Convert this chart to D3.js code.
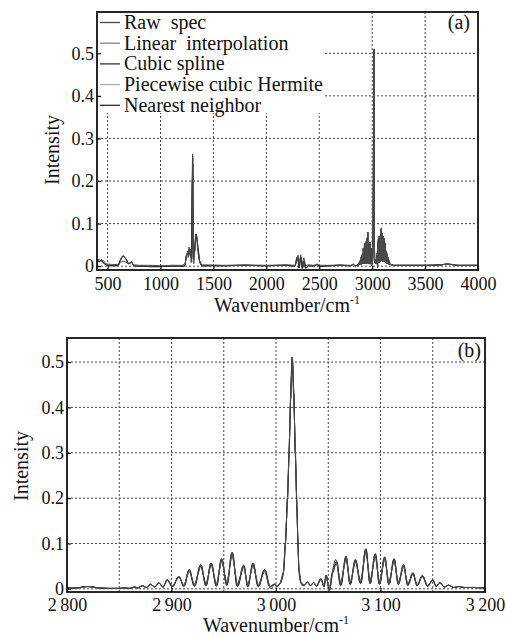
<!DOCTYPE html>
<html>
<head>
<meta charset="utf-8">
<script src="https://cdn.jsdelivr.net/npm/d3@7"></script>
<style>
body { margin: 0; background: #fff; }
svg text { font-family: "Liberation Serif", "Times New Roman", serif; fill: #111; }
</style>
</head>
<body>
<svg width="506" height="637"></svg>
<script>
// series
const seriesNames = ["Raw  spec", "Linear  interpolation", "Cubic spline", "Piecewise cubic Hermite", "Nearest neighbor"];
const seriesColors = ["#4a4a4a", "#858585", "#333333", "#ababab", "#2a2a2a"];

// spectrum below the zoomed window (cm-1, intensity)
const wnLow = [400, 420, 440, 460, 480, 500, 550, 600, 620, 645, 670, 700, 725, 750, 800, 900, 1000, 1100, 1200,
  1230, 1245, 1255, 1262, 1270, 1278, 1285, 1292, 1300, 1305, 1310, 1322, 1335, 1345, 1355, 1370, 1390, 1450,
  1600, 1800, 2000, 2200, 2270, 2290, 2300, 2310, 2325, 2340, 2355, 2370, 2400, 2450, 2480, 2500, 2600, 2700, 2790];
const rawLow = [0.012, 0.016, 0.010, 0.014, 0.006, 0.005, 0.004, 0.004, 0.008, 0.012, 0.010, 0.005, 0.008, 0.003, 0.002, 0.002, 0.001, 0.002, 0.002,
  0.004, 0.020, 0.035, 0.020, 0.045, 0.025, 0.040, 0.015, 0.020, 0.256, 0.010, 0.030, 0.070, 0.060, 0.030, 0.010, 0.003, 0.003,
  0.002, 0.003, 0.002, 0.003, 0.002, 0.012, 0.026, 0.005, 0.027, 0.006, 0.020, 0.002, 0.003, 0.002, 0.005, 0.002, 0.002, 0.003, 0.002];
const interpLow = [0.018, 0.010, 0.015, 0.008, 0.004, 0.002, 0.001, 0.002, 0.014, 0.024, 0.018, 0.006, 0.010, 0.001, 0.000, -0.001, -0.001, 0.000, 0.000,
  0.002, 0.025, 0.030, 0.028, 0.040, 0.030, 0.035, 0.020, 0.200, 0.240, 0.030, 0.035, 0.075, 0.065, 0.040, 0.012, 0.001, 0.001,
  0.001, 0.002, 0.001, 0.002, 0.000, 0.020, 0.015, -0.004, 0.020, -0.005, 0.012, -0.004, 0.001, 0.000, 0.004, 0.000, 0.001, 0.002, 0.001];

// zoomed window 2800-3200 cm-1
const wnFine = [2800, 2810, 2815, 2820, 2825, 2830, 2840, 2850, 2855, 2860, 2865, 2868, 2872, 2876, 2880, 2884, 2888, 2892,
  2896, 2901, 2907, 2912, 2917, 2922, 2928, 2933, 2938, 2943, 2948, 2953, 2958, 2963, 2969, 2973, 2978, 2983, 2989, 2994,
  2998, 3001, 3004, 3007, 3009, 3011, 3012.5, 3014, 3015.5, 3017, 3018.5, 3020, 3021, 3022, 3024, 3027, 3030, 3033, 3036,
  3039, 3043, 3046, 3048, 3051, 3054, 3058, 3062, 3067, 3071, 3076, 3081, 3086, 3090, 3095, 3099, 3104, 3108, 3113, 3117,
  3122, 3126, 3131, 3135, 3140, 3145, 3150, 3153, 3157, 3161, 3165, 3170, 3175, 3180, 3190, 3200];
const rawFine = [0.002, 0.002, 0.004, 0.005, 0.004, 0.002, 0.001, 0.001, 0.002, 0.001, 0.004, 0.002, 0.007, 0.003, 0.010, 0.004, 0.013, 0.004,
  0.020, 0.005, 0.027, 0.006, 0.042, 0.006, 0.053, 0.007, 0.057, 0.006, 0.066, 0.008, 0.080, 0.006, 0.052, 0.005, 0.056, 0.005, 0.042, 0.004,
  0.010, 0.006, 0.012, 0.035, 0.100, 0.200, 0.300, 0.420, 0.510, 0.430, 0.300, 0.180, 0.100, 0.040, 0.012, 0.008, 0.015, 0.007, 0.014,
  0.006, 0.022, 0.005, 0.030, -0.003, 0.035, 0.060, 0.008, 0.071, 0.010, 0.064, 0.012, 0.088, 0.012, 0.077, 0.010, 0.070, 0.010, 0.066, 0.010,
  0.053, 0.008, 0.035, 0.007, 0.029, 0.006, 0.020, 0.006, 0.013, 0.004, 0.008, 0.003, 0.005, 0.003, 0.003, 0.002];

// spectrum above the zoomed window
const wnHigh = [3300, 3500, 3650, 3700, 3750, 3800, 4000];
const rawHigh = [0.002, 0.002, 0.003, 0.005, 0.004, 0.002, 0.002];

// ticks
const xTicksA = [500, 1000, 1500, 2000, 2500, 3000, 3500, 4000];
const yTicks = [0, 0.1, 0.2, 0.3, 0.4, 0.5];
const xTicksB = [2800, 2900, 3000, 3100, 3200];
const xTickLabelsB = ["2\u2009800", "2\u2009900", "3\u2009000", "3\u2009100", "3\u2009200"];
const xGridB = [2850, 2900, 2950, 3000, 3050, 3100, 3150];

const wnAll = [...wnLow, ...wnFine, ...wnHigh];
const rawAll = [...rawLow, ...rawFine, ...rawHigh];
const interpAll = [...interpLow, ...rawFine, ...rawHigh];
const toPts = vals => wnAll.map((w, i) => [w, vals[i]]);

const series = [
  {name: seriesNames[0], color: seriesColors[0], curve: d3.curveLinear, pts: toPts(rawAll)},
  {name: seriesNames[1], color: seriesColors[1], curve: d3.curveLinear, pts: toPts(interpAll)},
  {name: seriesNames[2], color: seriesColors[2], curve: d3.curveNatural, pts: toPts(interpAll)},
  {name: seriesNames[3], color: seriesColors[3], curve: d3.curveMonotoneX, pts: toPts(interpAll)},
  {name: seriesNames[4], color: seriesColors[4], curve: d3.curveBumpX, pts: toPts(interpAll)}
];
const drawOrder = [3, 1, 4, 2, 0];
const serif = "'Liberation Serif', 'Times New Roman', serif";

const svg = d3.select("svg");

function panel(id, box, xDomain, yDomain, xGrid) {
  const x = d3.scaleLinear().domain(xDomain).range([box.left, box.right]);
  const y = d3.scaleLinear().domain(yDomain).range([box.bottom, box.top]);
  const g = svg.append("g");

  g.append("clipPath").attr("id", id)
    .append("rect")
    .attr("x", box.left).attr("y", box.top)
    .attr("width", box.right - box.left).attr("height", box.bottom - box.top);

  // dotted grid
  g.selectAll(".vg").data(xGrid).enter().append("line")
    .attr("x1", d => x(d)).attr("x2", d => x(d))
    .attr("y1", box.top).attr("y2", box.bottom)
    .attr("stroke", "#444").attr("stroke-width", 1).attr("stroke-dasharray", "2,2");
  g.selectAll(".hg").data(yTicks).enter().append("line")
    .attr("x1", box.left).attr("x2", box.right)
    .attr("y1", d => y(d)).attr("y2", d => y(d))
    .attr("stroke", "#444").attr("stroke-width", 1).attr("stroke-dasharray", "2,2");

  return {x, y, g};
}

function lines(p, id) {
  const lg = p.g.append("g").attr("clip-path", `url(#${id})`);
  drawOrder.forEach(i => {
    const s = series[i];
    lg.append("path")
      .datum(s.pts)
      .attr("fill", "none")
      .attr("stroke", s.color)
      .attr("stroke-width", 1)
      .attr("d", d3.line().x(d => p.x(d[0])).y(d => p.y(d[1])).curve(s.curve));
  });
}

function axes(p, box, xTicks, xFmt, pad) {
  const xa = p.g.append("g")
    .attr("transform", `translate(0,${box.bottom})`)
    .call(d3.axisBottom(p.x).tickValues(xTicks).tickSize(-4).tickPadding(pad).tickFormat(xFmt));
  const ya = p.g.append("g")
    .attr("transform", `translate(${box.left},0)`)
    .call(d3.axisLeft(p.y).tickValues(yTicks).tickSize(-4).tickPadding(3)
      .tickFormat(d => d === 0 ? "0" : d3.format(".1f")(d)));
  [xa, ya].forEach(a => {
    a.attr("font-family", serif).attr("font-size", 18);
    a.select(".domain").remove();
    a.selectAll("line").attr("stroke", "#111").attr("stroke-width", 1.2);
    a.selectAll("text").attr("fill", "#111").style("font-family", serif);
  });
  p.g.append("rect")
    .attr("x", box.left).attr("y", box.top)
    .attr("width", box.right - box.left).attr("height", box.bottom - box.top)
    .attr("fill", "none").attr("stroke", "#111").attr("stroke-width", 1.8);
}

// ---- panel (a)
const boxA = {left: 97, right: 478, top: 12, bottom: 270};
const pA = panel("clipA", boxA, [400, 4000], [-0.009, 0.597], xTicksA.slice(0, -1));
lines(pA, "clipA");

// legend (white box hides the grid)
const legend = pA.g.append("g");
legend.append("rect").attr("x", boxA.left).attr("y", boxA.top)
  .attr("width", 228).attr("height", 101).attr("fill", "#fff");
seriesNames.forEach((n, i) => {
  const cy = boxA.top + 10.5 + i * 20.7;
  legend.append("line").attr("x1", 100).attr("x2", 120).attr("y1", cy).attr("y2", cy)
    .attr("stroke", seriesColors[i]).attr("stroke-width", 1.3);
  legend.append("text").attr("x", 124).attr("y", cy + 6.5)
    .attr("font-size", 20).style("white-space", "pre").text(n);
});
axes(pA, boxA, xTicksA, d => d, 7);
svg.append("text").attr("x", 470).attr("y", 29).attr("text-anchor", "end").attr("font-size", 20).text("(a)");

svg.append("text").attr("x", 287).attr("y", 312).attr("text-anchor", "middle").attr("font-size", 20)
  .html("Wavenumber/cm<tspan dy='-8' font-size='12'>-1</tspan>");
svg.append("text").attr("transform", "translate(59,150) rotate(-90)").attr("text-anchor", "middle")
  .attr("font-size", 20).text("Intensity");

// ---- panel (b)
const boxB = {left: 67, right: 485, top: 338, bottom: 592};
const pB = panel("clipB", boxB, [2800, 3200], [-0.007, 0.553], xGridB);
lines(pB, "clipB");
axes(pB, boxB, xTicksB, (d, i) => xTickLabelsB[i], 6);
svg.append("text").attr("x", 481).attr("y", 357).attr("text-anchor", "end").attr("font-size", 20).text("(b)");

svg.append("text").attr("x", 276).attr("y", 632).attr("text-anchor", "middle").attr("font-size", 20)
  .html("Wavenumber/cm<tspan dy='-8' font-size='12'>-1</tspan>");
svg.append("text").attr("transform", "translate(28,466) rotate(-90)").attr("text-anchor", "middle")
  .attr("font-size", 20).text("Intensity");
</script>
</body>
</html>
